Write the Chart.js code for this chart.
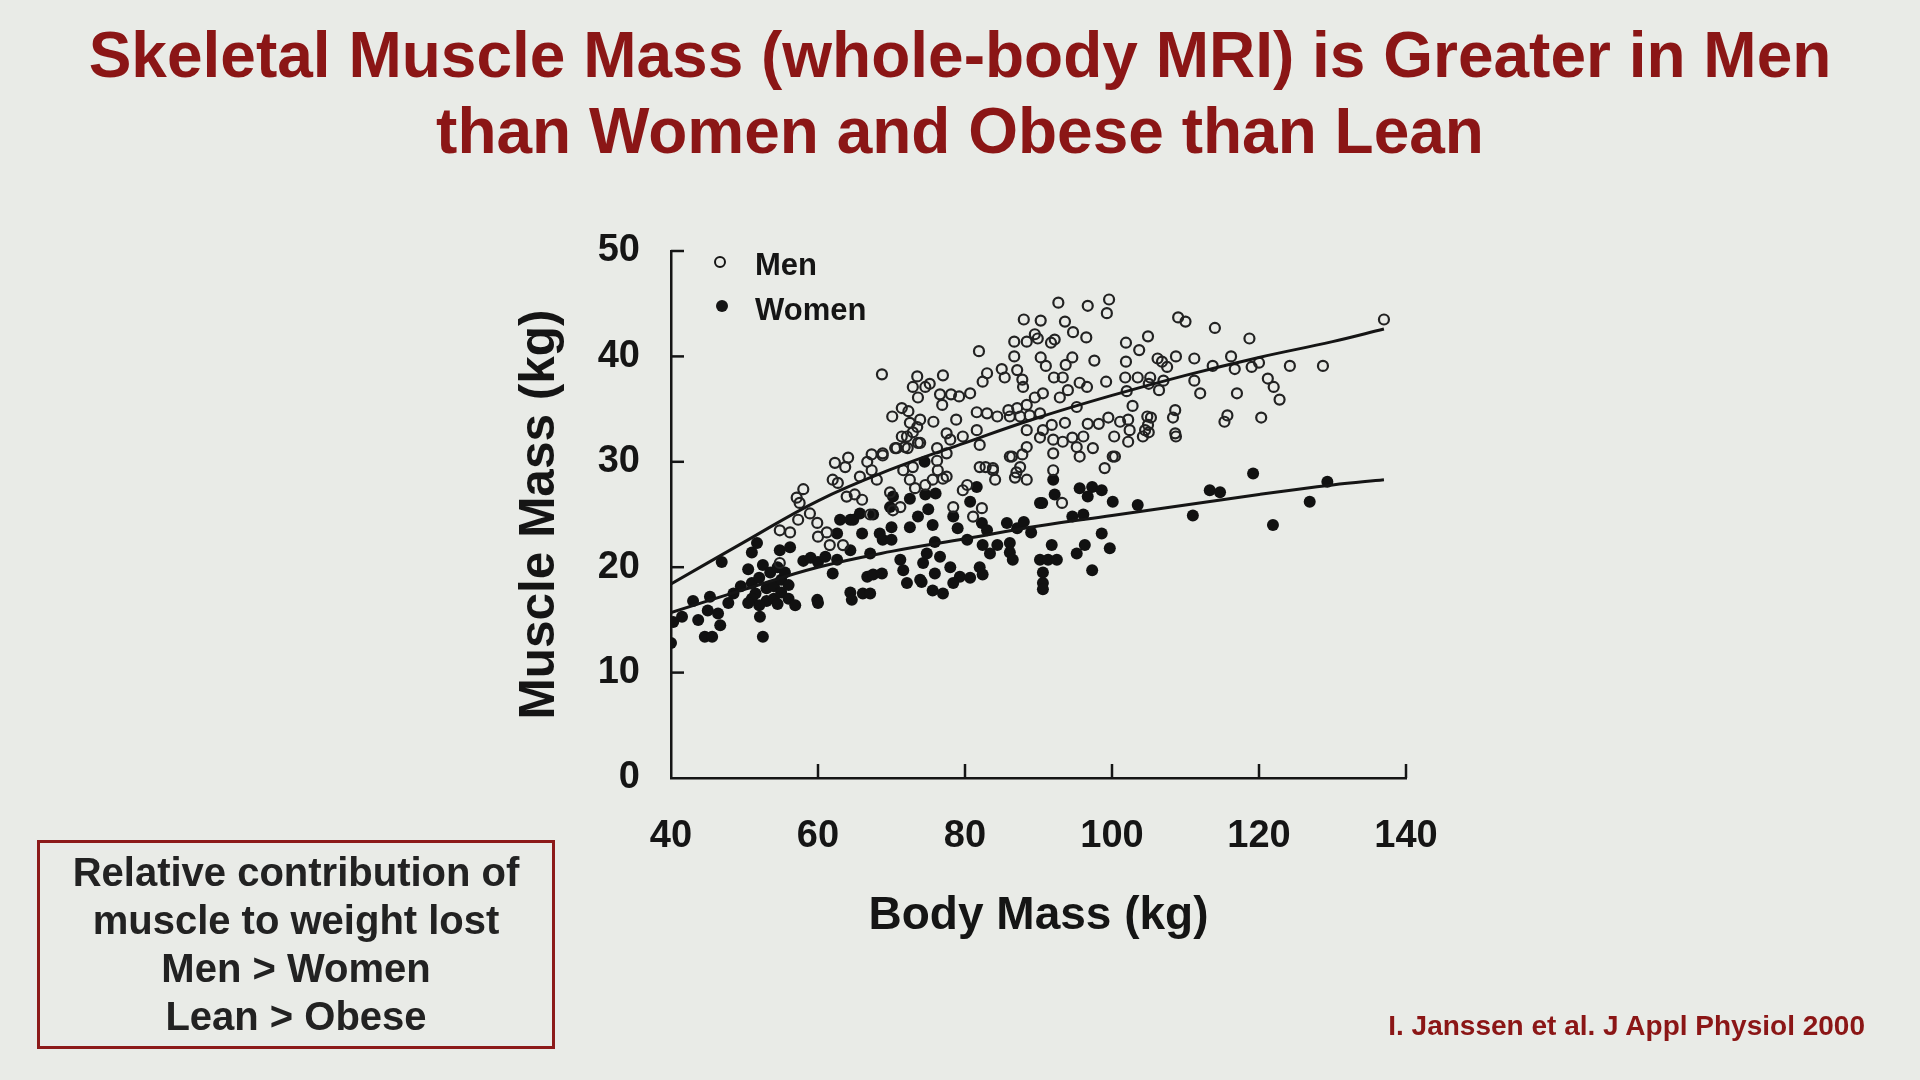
<!DOCTYPE html>
<html>
<head>
<meta charset="utf-8">
<script src="https://cdn.jsdelivr.net/npm/chart.js@4.4.1/dist/chart.umd.min.js"></script>
<style>
  html, body { margin: 0; padding: 0; }
  body {
    width: 1920px; height: 1080px; position: relative; overflow: hidden;
    background: #e9ebe7; font-family: 'Liberation Sans', Arial, sans-serif;
  }
  #wrap { position: absolute; left: 0; top: 0; width: 1920px; height: 1080px; }
  .title {
    position: absolute; left: 0; top: 17px; width: 1920px; text-align: center;
    font-size: 64px; line-height: 76px; font-weight: bold; color: #8b1616;
  }
  .note {
    position: absolute; left: 37px; top: 840px; width: 512px; height: 198px;
    border: 3px solid #8c1a1a; padding-top: 5px; box-sizing: content-box;
    text-align: center; font-size: 40px; line-height: 48px; font-weight: bold; color: #222;
  }
  .cite {
    position: absolute; right: 55px; top: 1012px; font-size: 28px; line-height: 28px;
    font-weight: bold; color: #8b1616;
  }
</style>
</head>
<body>
<div class="title">Skeletal Muscle Mass (whole-body MRI) is Greater in Men<br>than Women and Obese than Lean</div>
<div id="wrap"><canvas id="muscleChart"></canvas></div>
<div class="note">Relative contribution of<br>muscle to weight lost<br>Men &gt; Women<br>Lean &gt; Obese</div>
<div class="cite">I. Janssen et al. J Appl Physiol 2000</div>
<script>
// axis ticks
const xTicks = [40, 60, 80, 100, 120, 140];
const yTicks = [0, 10, 20, 30, 40, 50];

// fitted curves
const fitBodyMass = [40, 50, 60, 70, 80, 90, 100, 110, 120, 130, 137];
const menFit = [18.4, 22.4, 26.3, 29.3, 31.8, 34.2, 36.3, 38.2, 39.9, 41.4, 42.6];
const womenFit = [15.7, 17.9, 20.0, 21.5, 22.7, 23.9, 24.9, 25.9, 26.9, 27.8, 28.3];

// [body mass, muscle mass] in kg
const menPoints = [
  [58,27.4],[57.1,26.6],[57.5,26.1],[58.9,25.1],[57.3,24.5],[56.2,23.3],[59.9,24.2],[60,22.9],[61.2,23.3],[61.6,22.1],[63.4,22.1],[54.8,20.4],[54.8,23.5],
  [62.3,29.9],[64.1,30.4],[62,28.3],[62.7,28],[63.9,26.7],[65,26.9],[65.7,28.6],[66.7,30],[67.3,29.2],[68,28.3],[68.8,30.8],[66,26.4],[67.1,25],[69.8,27.1],
  [70.1,34.3],[71.4,35.1],[72.5,33.7],[73.5,33.3],[73.9,34],[70.7,31.3],[72.1,32.4],[72.2,31.3],[73.6,31.8],[71.6,29.2],[72.9,29.5],[72.5,28.3],[73.2,27.5],[74.6,27.8],[71.2,25.7],[70.2,25.4],
  [92.7,45.1],[96.7,44.8],[99.6,45.4],[99.3,44.1],[88,43.5],[90.3,43.4],[93.6,43.3],[94.7,42.3],[96.5,41.8],[86.7,41.4],[88.4,41.4],[89.9,41.7],[91.7,41.3],[92.2,41.6],[81.9,40.5],
  [90.3,39.9],[91,39.1],[93.7,39.2],[94.6,39.9],[97.6,39.6],[101.9,41.3],[101.9,39.5],[104.9,41.9],[106.8,39.5],[107.5,39],
  [92.1,38],[93.3,38],[95.6,37.5],[96.6,37.1],[99.2,37.6],[101.8,38],[103.5,38],[105.2,38],[106.4,36.8],[73.5,38.1],[77,38.2],[72.9,37.1],[74.6,37.1],[75.2,37.4],[73.6,36.1],
  [76.6,36.4],[78.1,36.4],[79.2,36.2],[80.7,36.5],[76.9,35.4],[83,38.4],[82.4,37.6],[85.4,38],[87.1,38.7],[87.8,37.8],[87.9,37.1],
  [78.8,34],[81.6,34.7],[83,34.6],[84.4,34.3],[85.9,34.9],[87.1,35.1],[88.4,35.4],[89.5,36.1],[90.6,36.5],[86.1,34.3],[87.5,34.3],[88.8,34.4],[90.2,34.6],[92.9,36.1],[94,36.8],[95.2,35.2],
  [88.4,33],[90.6,33],[91.8,33.5],[93.6,33.7],[96.7,33.6],[98.2,33.6],[90.2,32.3],[92,32.1],[93.3,31.9],[94.6,32.3],[96.1,32.4],[95.2,31.4],[97.4,31.3],
  [101.1,33.8],[102.2,34],[102.4,33],[104.8,34.3],[104.9,33.5],[105,32.8],[104.2,32.4],[102.2,31.9],[100.1,30.5],
  [95.6,30.5],[92,30.8],[88.4,31.4],[86.4,30.5],[83.8,29.4],[82,31.6],[81.6,33],[77.5,32.7],[78,32.1],[79.7,32.4],
  [72.9,32.8],[71.4,32.4],[70.5,31.3],[68.8,30.6],[71.8,31.4],[73.9,31.8],[76.2,31.3],[77.5,30.8],
  [109,43.7],[110,43.3],[114,42.7],[118.7,41.7],[124.2,39.1],[128.7,39.1],[137,43.5],
  [103.7,40.6],[106.2,39.8],[108.7,40],[111.2,39.8],[113.7,39.1],[116.2,40],[116.7,38.8],[121.2,37.9],[122,37.1],[122.8,35.9],[117,36.5],[115.7,34.4],[115.3,33.8],
  [102,36.7],[105,37.4],[107,37.7],[105.3,34.2],[104.5,33],[108.7,32.4],[108.3,34.2],[111.2,37.7],[112,36.5],[99.5,34.2],[100.3,32.4],[119,39],[120,39.4],[120.3,34.2],
  [68.7,38.3],[72.3,34.8],[75.7,33.8],[67.3,30.7],[63.7,29.5],[76.2,30.1],[77,28.4],[80.3,27.8],[82,29.5],[82.8,29.5],[87,29],[87.8,30.7],
  [83.8,29.2],[84.1,28.3],[86.8,28.5],[88.4,28.3],[86.1,30.5],[87.5,29.5],[92,29.2],[93.2,26.1],[99,29.4],[100.4,30.5],[78.4,25.7],[81.1,24.8],[82.3,25.6],
  [79.7,27.3],[75.6,28.3],[76.3,29.2],[77.5,28.6],[108.6,34.9],[108.6,32.7],[85,38.8],[86.7,40],[89.5,42.1],[102.8,35.3]
];

const womenPoints = [
  [40.3,14.8],[40,12.8],[41.5,15.3],[43.7,15.0],[45.0,15.9],[46.4,15.6],[46.7,14.5],[44.6,13.4],[45.6,13.4],[45.3,17.2],[47.8,16.6],[43,16.8],
  [46.9,20.5],[51.0,21.4],[51.7,22.3],[52.1,15.3],[52.5,13.4],
  [50.5,19.8],[51,18.5],[51.5,17.5],[52,19],[52.5,20.2],[53,18],[53,16.8],[53.5,19.5],[54,18.2],[54,17],[54.5,20],[55,18.8],[55,17.6],[55.5,19.5],
  [56,18.3],[56,17],[51,17],[52,16.4],[54.5,16.5],[50.5,16.6],[49.5,18.2],[48.5,17.5],
  [54.8,21.6],[56.2,21.9],[56.9,16.4],[59.9,16.9],[60,16.6],[58,20.6],[59,20.9],[60,20.5],[61,21],[62.6,23.2],[63,24.5],[64.4,24.5],[64.8,24.5],[64.4,21.6],
  [62.6,20.7],[62,19.4],[64.4,17.6],[64.6,16.9],[66.1,17.5],[67.1,17.5],[66,23.2],[65.7,25.1],[67.5,25],[67.1,21.3],[66.7,19.1],[67.5,19.3],[68.4,23.2],
  [68.8,22.6],[70,23.8],[70,22.6],[68.7,19.4],[71.2,20.7],[71.6,19.7],[72.1,18.5],[72.5,23.8],[73.6,24.8],[74.1,18.6],[74.3,20.4],[69.8,25.7],[70.2,26.7],
  [72.5,26.5],[75,25.5],[76,27],
  [74.5,30],[74.6,26.9],[81.6,27.6],[80.7,26.2],[78.4,24.8],[75.6,24],[79,23.7],[82.3,24.2],[85.7,24.2],[87.1,23.7],[75.9,22.4],[80.3,22.6],[82.4,22.1],
  [83.4,21.3],[84.4,22.1],[86.1,22.3],[86.1,21.4],[86.5,20.7],[74.8,21.3],[76.6,21],[78,20],[79.3,19.1],[75.9,19.4],[78.4,18.5],[80.7,19],[82,20],
  [82.4,19.3],[75.6,17.8],[77,17.5],[73.9,18.8],[83,23.5],[88,24.3],[89,23.3],
  [92,28.3],[92.2,26.9],[90.5,26.1],[95.6,27.5],[97.3,27.6],[96.7,26.7],[98.6,27.3],[100.1,26.2],[103.5,25.9],[94.6,24.8],[96.1,25],[91.8,22.1],
  [90.2,20.7],[91.3,20.7],[92.5,20.7],[90.6,19.5],[90.6,18.5],[90.6,17.9],[95.2,21.3],[96.3,22.1],[98.6,23.2],[99.7,21.8],[97.3,19.7],[90.2,26.1],
  [119.2,28.9],[113.3,27.3],[114.7,27.1],[129.3,28.1],[126.9,26.2],[121.9,24],[111,24.9]
];

const toXY = pts => pts.map(p => ({ x: p[0], y: p[1] }));
const fitXY = ys => fitBodyMass.map((x, i) => ({ x: x, y: ys[i] }));

const ink = '#151515';

// inward tick marks and the small in-plot legend
const innerTicks = {
  id: 'innerTicks',
  afterDraw(chart) {
    const { ctx, chartArea: a, scales: { x, y } } = chart;
    ctx.save();
    ctx.strokeStyle = ink;
    ctx.lineWidth = 2.5;
    xTicks.slice(1).forEach(v => {
      const px = x.getPixelForValue(v);
      ctx.beginPath(); ctx.moveTo(px, a.bottom); ctx.lineTo(px, a.bottom - 14); ctx.stroke();
    });
    yTicks.slice(1).forEach(v => {
      const py = y.getPixelForValue(v);
      ctx.beginPath(); ctx.moveTo(a.left, py); ctx.lineTo(a.left + 13, py); ctx.stroke();
    });

    // legend
    const lx = a.left + 49, ly = a.top + 11;
    ctx.lineWidth = 2;
    ctx.beginPath(); ctx.arc(lx, ly, 5, 0, Math.PI * 2); ctx.stroke();
    ctx.fillStyle = ink;
    ctx.beginPath(); ctx.arc(lx + 2, ly + 44, 6, 0, Math.PI * 2); ctx.fill();
    ctx.font = 'bold 31px "Liberation Sans", Arial, sans-serif';
    ctx.textBaseline = 'middle';
    ctx.textAlign = 'left';
    ctx.fillText('Men', a.left + 84, ly + 4);
    ctx.fillText('Women', a.left + 84, ly + 49);
    ctx.restore();
  }
};

Chart.defaults.font.family = '"Liberation Sans", Arial, sans-serif';
Chart.defaults.color = ink;

const ctx = document.getElementById('muscleChart').getContext('2d');
const muscleChart = new Chart(ctx, {
  type: 'scatter',
  data: {
    datasets: [
      {
        type: 'line',
        label: 'Men fit',
        data: fitXY(menFit),
        borderColor: ink,
        borderWidth: 3,
        pointRadius: 0,
        tension: 0.4,
        fill: false
      },
      {
        type: 'line',
        label: 'Women fit',
        data: fitXY(womenFit),
        borderColor: ink,
        borderWidth: 3,
        pointRadius: 0,
        tension: 0.4,
        fill: false
      },
      {
        label: 'Men',
        data: toXY(menPoints),
        pointStyle: 'circle',
        pointRadius: 5,
        pointBorderWidth: 2.2,
        borderColor: '#222',
        backgroundColor: 'rgba(0,0,0,0)'
      },
      {
        label: 'Women',
        data: toXY(womenPoints),
        pointStyle: 'circle',
        pointRadius: 6,
        pointBorderWidth: 0,
        borderColor: '#111',
        backgroundColor: '#111'
      }
    ]
  },
  options: {
    responsive: true,
    maintainAspectRatio: false,
    animation: false,
    devicePixelRatio: 1,
    layout: { padding: { left: 511, right: 514, top: 251, bottom: 136 } },
    plugins: {
      legend: { display: false },
      tooltip: { enabled: false },
      title: { display: false }
    },
    scales: {
      x: {
        type: 'linear',
        min: xTicks[0],
        max: xTicks[xTicks.length - 1],
        afterFit: s => { s.height = 166; },
        afterBuildTicks: s => { s.ticks = xTicks.map(v => ({ value: v })); },
        grid: { display: true, drawOnChartArea: false, drawTicks: false },
        border: { display: true, color: ink, width: 2.5 },
        ticks: { padding: 36, font: { size: 38, weight: 'bold' }, color: ink, maxRotation: 0 },
        title: {
          display: true,
          text: 'Body Mass (kg)',
          padding: 0,
          font: { size: 46, weight: 'bold' },
          color: ink
        }
      },
      y: {
        type: 'linear',
        min: yTicks[0],
        max: yTicks[yTicks.length - 1],
        afterFit: s => { s.width = 160; },
        afterBuildTicks: s => { s.ticks = yTicks.map(v => ({ value: v })); },
        grid: { display: true, drawOnChartArea: false, drawTicks: false },
        border: { display: true, color: ink, width: 2.5 },
        ticks: { padding: 31, font: { size: 38, weight: 'bold' }, color: ink },
        title: {
          display: true,
          text: 'Muscle Mass (kg)',
          padding: 0,
          font: { size: 49.5, weight: 'bold' },
          color: ink
        }
      }
    }
  },
  plugins: [innerTicks]
});
</script>
</body>
</html>
